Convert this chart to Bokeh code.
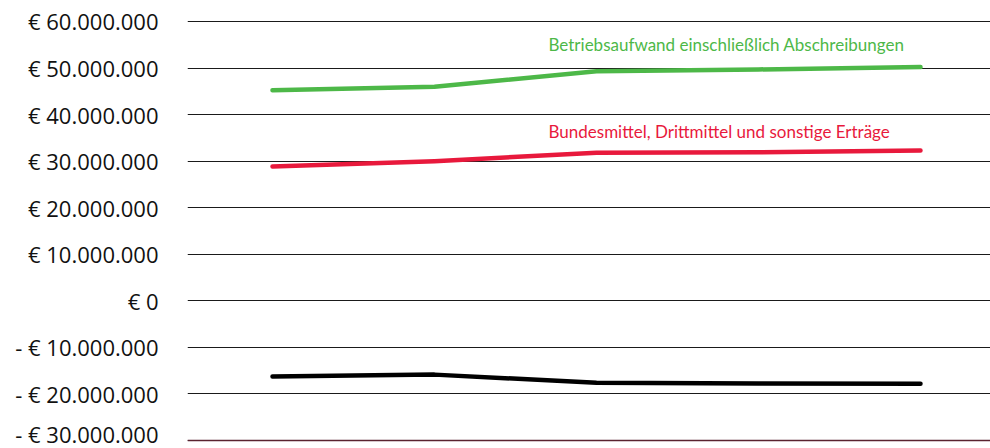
from bokeh.plotting import figure
from bokeh.models import Range1d, FixedTicker, Span, Label
from bokeh.embed import file_html
from bokeh.resources import INLINE

# ---- data ----
periods = [0, 1, 2, 3, 4]
aufwand = [45.25e6, 46.0e6, 49.3e6, 49.7e6, 50.2e6]       # Betriebsaufwand einschließlich Abschreibungen
ertraege = [28.85e6, 30.0e6, 31.8e6, 31.9e6, 32.3e6]      # Bundesmittel, Drittmittel und sonstige Erträge
saldo = [-16.25e6, -15.85e6, -17.6e6, -17.75e6, -17.8e6]  # Saldo
tick_values = [-30e6, -20e6, -10e6, 0, 10e6, 20e6, 30e6, 40e6, 50e6, 60e6]
tick_labels = ["- € 30.000.000", "- € 20.000.000", "- € 10.000.000", "€ 0",
               "€ 10.000.000", "€ 20.000.000", "€ 30.000.000", "€ 40.000.000",
               "€ 50.000.000", "€ 60.000.000"]
label_aufwand = "Betriebsaufwand einschließlich Abschreibungen"
label_ertraege = "Bundesmittel, Drittmittel und sonstige Erträge"

GREEN = "#4db848"
RED = "#e8193c"
BLACK = "#000000"

px_per_unit = 4.656e-6  # pixels per euro
p = figure(width=990, height=448, output_backend="svg", toolbar_location=None,
           x_range=Range1d(-85 / 162, 4 + 70 / 162),
           y_range=Range1d(-30e6 - 8 / px_per_unit, 60e6 + 21 / px_per_unit),
           min_border_left=187, min_border_right=0, min_border_top=0, min_border_bottom=0)
p.outline_line_color = None
p.background_fill_color = "white"
p.border_fill_color = "white"
p.xaxis.visible = False
p.xgrid.visible = False

ax = p.yaxis[0]
ax.ticker = FixedTicker(ticks=tick_values)
ax.major_label_overrides = {v: t for v, t in zip(tick_values, tick_labels)}
ax.axis_line_color = None
ax.major_tick_in = 0
ax.major_tick_out = 0
ax.minor_tick_line_color = None
ax.major_label_standoff = 29
ax.major_label_text_font = "Open Sans"
ax.major_label_text_font_size = "22px"
ax.major_label_text_color = "#111111"

p.ygrid.ticker = FixedTicker(ticks=tick_values)
p.ygrid.grid_line_color = "#1a1a1a"
p.ygrid.grid_line_width = 1

p.add_layout(Span(location=-30e6, dimension="width", line_color="#5a2330", line_width=1.5))

for ys, col in [(aufwand, GREEN), (ertraege, RED), (saldo, BLACK)]:
    p.line(periods, ys, line_color=col, line_width=4.5, line_cap="round", line_join="round")

p.add_layout(Label(x=(548 - 272) / 162, y=60e6 - (44 - 21) / px_per_unit, text=label_aufwand,
                   text_color=GREEN, text_font="Lato", text_font_size="17px",
                   text_baseline="middle"))
p.add_layout(Label(x=(548 - 272) / 162, y=60e6 - (131 - 21) / px_per_unit, text=label_ertraege,
                   text_color=RED, text_font="Lato", text_font_size="17px",
                   text_baseline="middle"))

open("out.html", "w").write(file_html(p, INLINE))
